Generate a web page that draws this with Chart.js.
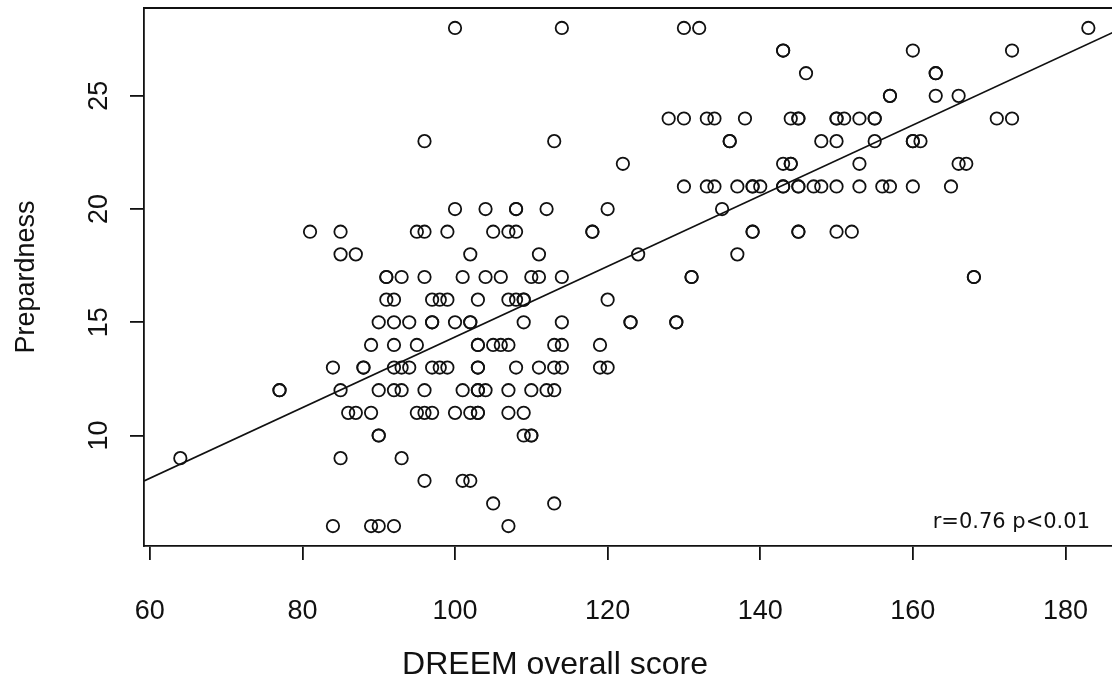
<!DOCTYPE html>
<html>
<head>
<meta charset="utf-8">
<script src="https://cdn.jsdelivr.net/npm/chart.js@4.4.1/dist/chart.umd.min.js"></script>
<style>
body{margin:0;background:#fff;}
canvas{display:block;}
</style>
</head>
<body>
<canvas id="chart" width="1112" height="683"></canvas>
<script>
const dreemScore=[
100,114,130,132,183,
143,143,160,173,
146,163,163,
157,157,163,166,
128,130,133,134,138,144,145,145,150,150,151,153,155,155,171,173,
96,113,136,136,148,150,155,160,160,161,
122,143,144,144,153,166,167,
130,133,134,137,139,139,140,143,143,145,145,147,148,150,153,156,157,160,165,
100,104,108,108,112,120,135,
81,85,95,96,99,105,107,108,118,118,139,139,145,145,150,152,
85,87,102,111,124,137,
91,91,93,96,101,104,106,110,111,114,131,131,168,168,
91,92,97,98,99,103,107,108,109,109,120,
90,92,94,97,97,100,102,102,109,114,123,123,129,129,
89,92,95,103,103,105,106,107,113,114,119,
84,88,88,92,93,94,97,98,99,103,103,108,111,113,114,119,120,
77,77,85,90,92,93,96,101,103,103,104,107,110,112,113,
86,87,89,95,96,97,100,102,103,103,107,109,
90,90,109,110,110,
64,85,93,
96,101,102,
105,113,
84,89,90,92,107
];
const preparedness=[
28,28,28,28,28,
27,27,27,27,
26,26,26,
25,25,25,25,
24,24,24,24,24,24,24,24,24,24,24,24,24,24,24,24,
23,23,23,23,23,23,23,23,23,23,
22,22,22,22,22,22,22,
21,21,21,21,21,21,21,21,21,21,21,21,21,21,21,21,21,21,21,
20,20,20,20,20,20,20,
19,19,19,19,19,19,19,19,19,19,19,19,19,19,19,19,
18,18,18,18,18,18,
17,17,17,17,17,17,17,17,17,17,17,17,17,17,
16,16,16,16,16,16,16,16,16,16,16,
15,15,15,15,15,15,15,15,15,15,15,15,15,15,
14,14,14,14,14,14,14,14,14,14,14,
13,13,13,13,13,13,13,13,13,13,13,13,13,13,13,13,13,
12,12,12,12,12,12,12,12,12,12,12,12,12,12,12,
11,11,11,11,11,11,11,11,11,11,11,11,
10,10,10,10,10,
9,9,9,
8,8,8,
7,7,
6,6,6,6,6
];
const xTicks=[60,80,100,120,140,160,180];
const yTicks=[10,15,20,25];
const fitIntercept=-1.25;
const fitSlope=0.156;

const xMin=59.24,xMax=186.1,yMin=5.12,yMax=28.88;
const ink="#111";
const font="'Liberation Sans', Arial, sans-serif";

const points=dreemScore.map((x,i)=>({x:x,y:preparedness[i]}));
const fitLine=[xMin,190].map(x=>({x:x,y:fitIntercept+fitSlope*x}));

// R style decorations: top frame line, rotated y labels, titles, annotation
const rStyle={
id:"rStyle",
afterDraw(chart){
const c=chart.ctx,a=chart.chartArea,ys=chart.scales.y;
c.save();
c.strokeStyle=ink;c.lineWidth=1.8;
c.beginPath();c.moveTo(a.left,a.top);c.lineTo(a.right,a.top);c.stroke();

c.fillStyle=ink;
c.font="27px "+font;
c.textAlign="center";c.textBaseline="middle";
yTicks.forEach(v=>{
c.save();
c.translate(100,ys.getPixelForValue(v));
c.rotate(-Math.PI/2);
c.fillText(String(v),0,0);
c.restore();
});

c.save();
c.translate(27,(a.top+a.bottom)/2);
c.rotate(-Math.PI/2);
c.fillText("Prepardness",0,0);
c.restore();

c.font="32px "+font;
c.fillText("DREEM overall score",555,665);

c.font="21px 'DejaVu Sans', Verdana, sans-serif";
c.textAlign="right";c.textBaseline="alphabetic";
c.fillText("r=0.76 p<0.01",1090,528);
c.restore();
}
};

new Chart(document.getElementById("chart").getContext("2d"),{
type:"scatter",
data:{
datasets:[
{data:points,pointRadius:6.2,pointHoverRadius:6.2,pointBorderWidth:1.8,borderColor:ink,backgroundColor:"rgba(0,0,0,0)",showLine:false},
{type:"line",data:fitLine,borderColor:ink,borderWidth:1.8,pointRadius:0,fill:false}
]
},
options:{
responsive:false,
animation:false,
devicePixelRatio:1,
layout:{autoPadding:false,padding:{top:8,right:0,left:0,bottom:0}},
plugins:{legend:{display:false},tooltip:{enabled:false}},
scales:{
x:{
type:"linear",min:xMin,max:xMax,
afterBuildTicks:s=>{s.ticks=xTicks.map(v=>({value:v}));},
afterFit:s=>{s.height=137;s.paddingLeft=0;s.paddingRight=0;},
grid:{display:true,drawOnChartArea:false,drawTicks:true,tickLength:14,color:ink,lineWidth:1.8},
border:{display:true,color:ink,width:1.8},
ticks:{autoSkip:false,maxRotation:0,minRotation:0,padding:35,color:ink,font:{family:font,size:27}}
},
y:{
type:"linear",min:yMin,max:yMax,
afterBuildTicks:s=>{s.ticks=yTicks.map(v=>({value:v}));},
afterFit:s=>{s.width=144;s.paddingTop=0;s.paddingBottom=0;},
grid:{display:true,drawOnChartArea:false,drawTicks:true,tickLength:14,color:ink,lineWidth:1.8},
border:{display:true,color:ink,width:1.8},
ticks:{display:false}
}
}
},
plugins:[rStyle]
});
</script>
</body>
</html>
